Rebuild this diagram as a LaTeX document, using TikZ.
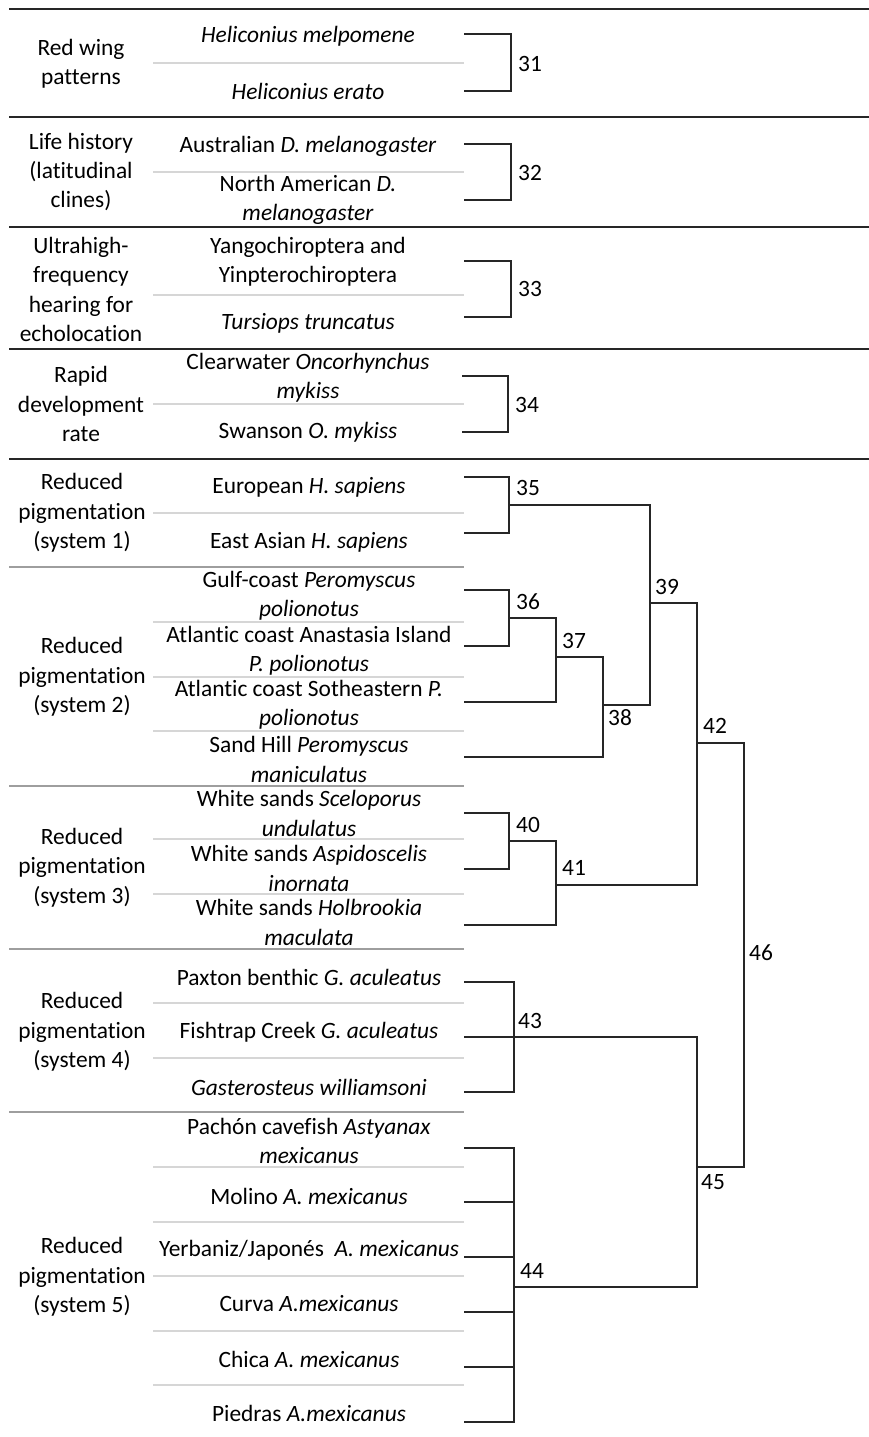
\documentclass[tikz,border=0pt]{standalone}
\usepackage{fontspec}
\setmainfont{Carlito}[Ligatures=NoCommon]
\begin{document}
\begin{tikzpicture}[x=1pt,y=-1pt,
  txt/.style={font=\fontsize{23.4}{29.4}\selectfont, align=center, inner sep=0pt},
  num/.style={font=\fontsize{23.4}{29.4}\selectfont, anchor=west, inner sep=0pt},
  toprule/.style={line width=1.8pt, black!85},
  sysline/.style={line width=1.5pt, black!38},
  rowline/.style={line width=1.5pt, black!16},
  tree/.style={line width=1.4pt, black!85}]
\useasboundingbox (0,0) rectangle (869,1437);

% ---- horizontal rules
\draw[toprule] (9,9) -- (869,9);
\draw[toprule] (9,117) -- (869,117);
\draw[toprule] (9,227) -- (869,227);
\draw[toprule] (9,349) -- (869,349);
\draw[toprule] (9,459) -- (869,459);
\foreach \yy in {567,786,949,1112} \draw[sysline] (9,\yy) -- (464,\yy);
\foreach \yy in {63,172,295,404,513,622,677,731,839,894,1003,1058,1167,1222,1276,1331,1385}
  \draw[rowline] (153,\yy) -- (464,\yy);

% ---- left labels
\node[txt] (lab1) at (81,63.5) {Red wing\\patterns};
\node[txt] (lab2) at (81,172) {Life history\\(latitudinal\\clines)};
\node[txt] (lab3) at (81,289.5) {Ultrahigh-\\frequency\\hearing for\\echolocation};
\node[txt] (lab4) at (81,404) {Rapid\\development\\rate};
\node[txt] (lab5) at (82,513) {Reduced\\pigmentation\\(system 1)};
\node[txt] (lab6) at (82,677) {Reduced\\pigmentation\\(system 2)};
\node[txt] (lab7) at (82,867.5) {Reduced\\pigmentation\\(system 3)};
\node[txt] (lab8) at (82,1032) {Reduced\\pigmentation\\(system 4)};
\node[txt] (lab9) at (82,1277) {Reduced\\pigmentation\\(system 5)};

% ---- species
\node[txt] (sp1) at (308,36) {\textit{Heliconius melpomene}};
\node[txt] (sp2) at (308,91) {\textit{Heliconius erato}};
\node[txt] (sp3) at (308,146) {Australian \textit{D. melanogaster}};
\node[txt] (sp4) at (308,200) {North American \textit{D.}\\\textit{melanogaster}};
\node[txt] (sp5) at (308,261.5) {Yangochiroptera and\\Yinpterochiroptera};
\node[txt] (sp6) at (308,323) {\textit{Tursiops truncatus}};
\node[txt] (sp7) at (308,377.5) {Clearwater \textit{Oncorhynchus}\\\textit{mykiss}};
\node[txt] (sp8) at (308,432) {Swanson \textit{O. mykiss}};
\node[txt] (sp9) at (309,487) {European \textit{H. sapiens}};
\node[txt] (sp10) at (309,542) {East Asian \textit{H. sapiens}};
\node[txt] (sp11) at (309,596) {Gulf-coast \textit{Peromyscus}\\\textit{polionotus}};
\node[txt] (sp12) at (309,650.5) {Atlantic coast Anastasia Island\\\textit{P. polionotus}};
\node[txt] (sp13) at (309,704.5) {Atlantic coast Sotheastern \textit{P.}\\\textit{polionotus}};
\node[txt] (sp14) at (309,759.5) {Sand Hill \textit{Peromyscus}\\\textit{maniculatus}};
\node[txt] (sp15) at (309,813.5) {White sands \textit{Sceloporus}\\\textit{undulatus}};
\node[txt] (sp16) at (309,868.5) {White sands \textit{Aspidoscelis}\\\textit{inornata}};
\node[txt] (sp17) at (309,922.5) {White sands \textit{Holbrookia}\\\textit{maculata}};
\node[txt] (sp18) at (309,977) {Paxton benthic \textit{G. aculeatus}};
\node[txt] (sp19) at (309,1032) {Fishtrap Creek \textit{G. aculeatus}};
\node[txt] (sp20) at (309,1087) {\textit{Gasterosteus williamsoni}};
\node[txt] (sp21) at (309,1141) {Pachón cavefish \textit{Astyanax}\\\textit{mexicanus}};
\node[txt] (sp22) at (309,1196) {Molino \textit{A. mexicanus}};
\node[txt] (sp23) at (309,1250) {Yerbaniz/Japonés\ \ \textit{A. mexicanus}};
\node[txt] (sp24) at (309,1304) {Curva \textit{A.mexicanus}};
\node[txt] (sp25) at (309,1359) {Chica \textit{A. mexicanus}};
\node[txt] (sp26) at (309,1413) {Piedras \textit{A.mexicanus}};

% ---- leaf end points
\coordinate (e1) at (464,34);   \coordinate (e2) at (464,91);
\coordinate (e3) at (464,144);  \coordinate (e4) at (464,200);
\coordinate (e5) at (464,261);  \coordinate (e6) at (464,317);
\coordinate (e7) at (462,376);  \coordinate (e8) at (462,432);
\coordinate (e9) at (464,477);  \coordinate (e10) at (464,533);
\coordinate (e11) at (464,590); \coordinate (e12) at (464,646);
\coordinate (e13) at (464,702); \coordinate (e14) at (464,757);
\coordinate (e15) at (464,813); \coordinate (e16) at (464,869);
\coordinate (e17) at (464,925);
\coordinate (e18) at (464,982); \coordinate (e19) at (464,1037);
\coordinate (e20) at (464,1092);
\coordinate (e21) at (464,1148); \coordinate (e22) at (464,1202);
\coordinate (e23) at (464,1257); \coordinate (e24) at (464,1312);
\coordinate (e25) at (464,1367); \coordinate (e26) at (464,1422);

% ---- internal nodes
\coordinate (n31) at (511,62);
\coordinate (n32) at (511,172);
\coordinate (n33) at (511,289);
\coordinate (n34) at (508,404);
\coordinate (n35) at (509,505);
\coordinate (n36) at (509,618);
\coordinate (n37) at (556,657);
\coordinate (n38) at (603,705);
\coordinate (n39) at (650,603);
\coordinate (n40) at (509,841);
\coordinate (n41) at (556,885);
\coordinate (n42) at (697,743);
\coordinate (n43) at (514,1037);
\coordinate (n44) at (514,1287);
\coordinate (n45) at (697,1167);
\coordinate (n46) at (744,955);

% ---- tree
\draw[tree] (e1) -| (n31) |- (e2);
\draw[tree] (e3) -| (n32) |- (e4);
\draw[tree] (e5) -| (n33) |- (e6);
\draw[tree] (e7) -| (n34) |- (e8);
\draw[tree] (e9) -| (n35) |- (e10);
\draw[tree] (e11) -| (n36) |- (e12);
\draw[tree] (n36) -| (n37) |- (e13);
\draw[tree] (n37) -| (n38) |- (e14);
\draw[tree] (n35) -| (n39) |- (n38);
\draw[tree] (e15) -| (n40) |- (e16);
\draw[tree] (n40) -| (n41) |- (e17);
\draw[tree] (n39) -| (n42) |- (n41);
\draw[tree] (e18) -| (n43) |- (e20);
\draw[tree] (e19) -- (n43);
\draw[tree] (e21) -| (n44) |- (e26);
\draw[tree] (e22) -- (e22 -| n44);
\draw[tree] (e23) -- (e23 -| n44);
\draw[tree] (e24) -- (e24 -| n44);
\draw[tree] (e25) -- (e25 -| n44);
\draw[tree] (n43) -| (n45) |- (n44);
\draw[tree] (n42) -| (n46) |- (n45);

% ---- node numbers
\node[num] (t31) at (518,64) {31};
\node[num] (t32) at (518,173) {32};
\node[num] (t33) at (518,289) {33};
\node[num] (t34) at (515,405) {34};
\node[num] (t35) at (516,488) {35};
\node[num] (t36) at (516,602) {36};
\node[num] (t37) at (562,641) {37};
\node[num] (t38) at (608,718) {38};
\node[num] (t39) at (655,587) {39};
\node[num] (t40) at (516,825) {40};
\node[num] (t41) at (562,868) {41};
\node[num] (t42) at (703,726) {42};
\node[num] (t43) at (518,1021) {43};
\node[num] (t44) at (520,1271) {44};
\node[num] (t45) at (701,1182) {45};
\node[num] (t46) at (749,953) {46};
\end{tikzpicture}
\end{document}
